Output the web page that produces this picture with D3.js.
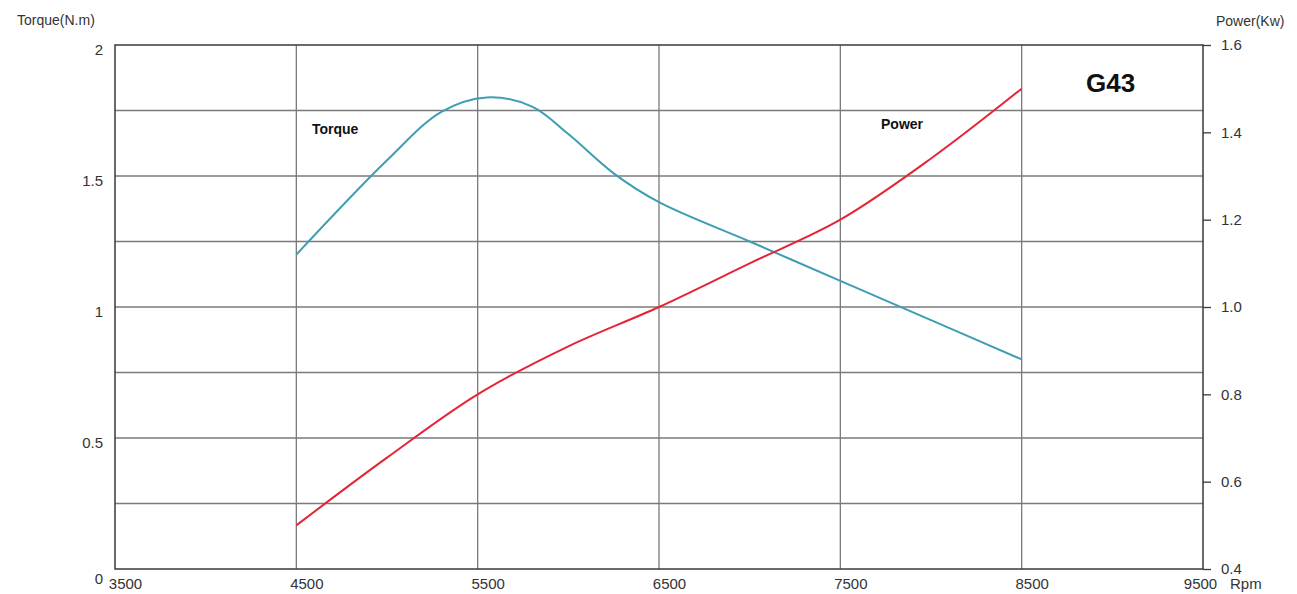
<!DOCTYPE html>
<html><head><meta charset="utf-8">
<script src="https://cdn.jsdelivr.net/npm/d3@7"></script>
<style>body{margin:0;background:#fff;} svg{display:block;font-family:"Liberation Sans",Arial,sans-serif;}</style>
</head><body>
<svg id="c" width="1297" height="594"></svg>
<script>
const rpmTicks = [3500, 4500, 5500, 6500, 7500, 8500, 9500];
const torqueTicks = [0, 0.5, 1, 1.5, 2];
const torqueGrid = [0.25, 0.5, 0.75, 1, 1.25, 1.5, 1.75];
const powerTicks = [0.4, 0.6, 0.8, 1.0, 1.2, 1.4, 1.6];
const torqueRpm = [4500, 5000, 5300, 5550, 5800, 6000, 6250, 6500, 7000, 7500, 8000, 8500];
const torqueVal = [1.2, 1.56, 1.745, 1.8, 1.765, 1.66, 1.51, 1.4, 1.25, 1.1, 0.95, 0.8];
const powerRpm = [4500, 5000, 5500, 6000, 6500, 7000, 7500, 8000, 8500];
const powerVal = [0.5, 0.655, 0.8, 0.91, 1.0, 1.1, 1.2, 1.34, 1.5];

const svg = d3.select("#c");
const L = 115, R = 1203, T = 45, B = 569;
const x = d3.scaleLinear().domain([3500, 9500]).range([L, R]);
const yT = d3.scaleLinear().domain([0, 2]).range([B, T]);
const yP = d3.scaleLinear().domain([0.4, 1.6]).range([B, T]);

// gridlines
svg.append("g").selectAll("line").data(rpmTicks.slice(1, -1)).join("line")
  .attr("x1", d => x(d)).attr("x2", d => x(d)).attr("y1", T).attr("y2", B)
  .attr("stroke", "#7a7a7a").attr("stroke-width", 1.3);
svg.append("g").selectAll("line").data(torqueGrid).join("line")
  .attr("x1", L).attr("x2", R).attr("y1", d => yT(d)).attr("y2", d => yT(d))
  .attr("stroke", "#7a7a7a").attr("stroke-width", 1.3);

// frame
svg.append("rect").attr("x", L).attr("y", T).attr("width", R - L).attr("height", B - T)
  .attr("fill", "none").attr("stroke", "#3a3a3a").attr("stroke-width", 1.5);

// left axis
const lAxis = d3.axisLeft(yT).tickValues(torqueTicks).tickSize(0).tickPadding(12).tickFormat(d3.format("~g"));
const lg = svg.append("g").attr("transform", `translate(${L},0)`).call(lAxis);
lg.select(".domain").remove();
lg.selectAll("text").attr("font-size", 15).attr("fill", "#333").attr("dy", d => d === 0 ? "0.95em" : "0.65em");

// right axis
const rAxis = d3.axisRight(yP).tickValues(powerTicks).tickSize(8).tickPadding(10).tickFormat(d3.format(".1f"));
const rg = svg.append("g").attr("transform", `translate(${R},0)`).call(rAxis);
rg.select(".domain").remove();
rg.selectAll("line").attr("stroke", "#3a3a3a").attr("stroke-width", 1.3);
rg.selectAll("text").attr("font-size", 15).attr("fill", "#333");

// bottom axis
const bAxis = d3.axisBottom(x).tickValues(rpmTicks).tickSize(0).tickPadding(9).tickFormat(d3.format("d"));
const bg = svg.append("g").attr("transform", `translate(0,${B})`).call(bAxis);
bg.select(".domain").remove();
bg.selectAll("text").attr("font-size", 15).attr("fill", "#333").attr("dx", d => d === 9500 ? -3 : 10);

// axis titles
svg.append("text").attr("x", 17).attr("y", 25).attr("font-size", 14).attr("fill", "#333").text("Torque(N.m)");
svg.append("text").attr("x", 1216).attr("y", 26).attr("font-size", 14).attr("fill", "#333").text("Power(Kw)");
svg.append("text").attr("x", 1230).attr("y", 589).attr("font-size", 15).attr("fill", "#333").text("Rpm");

// curves
const tLine = d3.line().x((d, i) => x(torqueRpm[i])).y(d => yT(d)).curve(d3.curveCatmullRom.alpha(0.5));
svg.append("path").attr("d", tLine(torqueVal)).attr("fill", "none").attr("stroke", "#3f9db3").attr("stroke-width", 2);
const pLine = d3.line().x((d, i) => x(powerRpm[i])).y(d => yP(d)).curve(d3.curveCatmullRom.alpha(0.5));
svg.append("path").attr("d", pLine(powerVal)).attr("fill", "none").attr("stroke", "#e52535").attr("stroke-width", 2);

// labels
svg.append("text").attr("x", 312).attr("y", 134).attr("font-size", 14).attr("font-weight", "bold").attr("fill", "#111").text("Torque");
svg.append("text").attr("x", 881).attr("y", 129).attr("font-size", 14).attr("font-weight", "bold").attr("fill", "#111").text("Power");
svg.append("text").attr("x", 1086).attr("y", 92).attr("font-size", 26).attr("font-weight", "bold").attr("fill", "#111").text("G43");
</script>
</body></html>
